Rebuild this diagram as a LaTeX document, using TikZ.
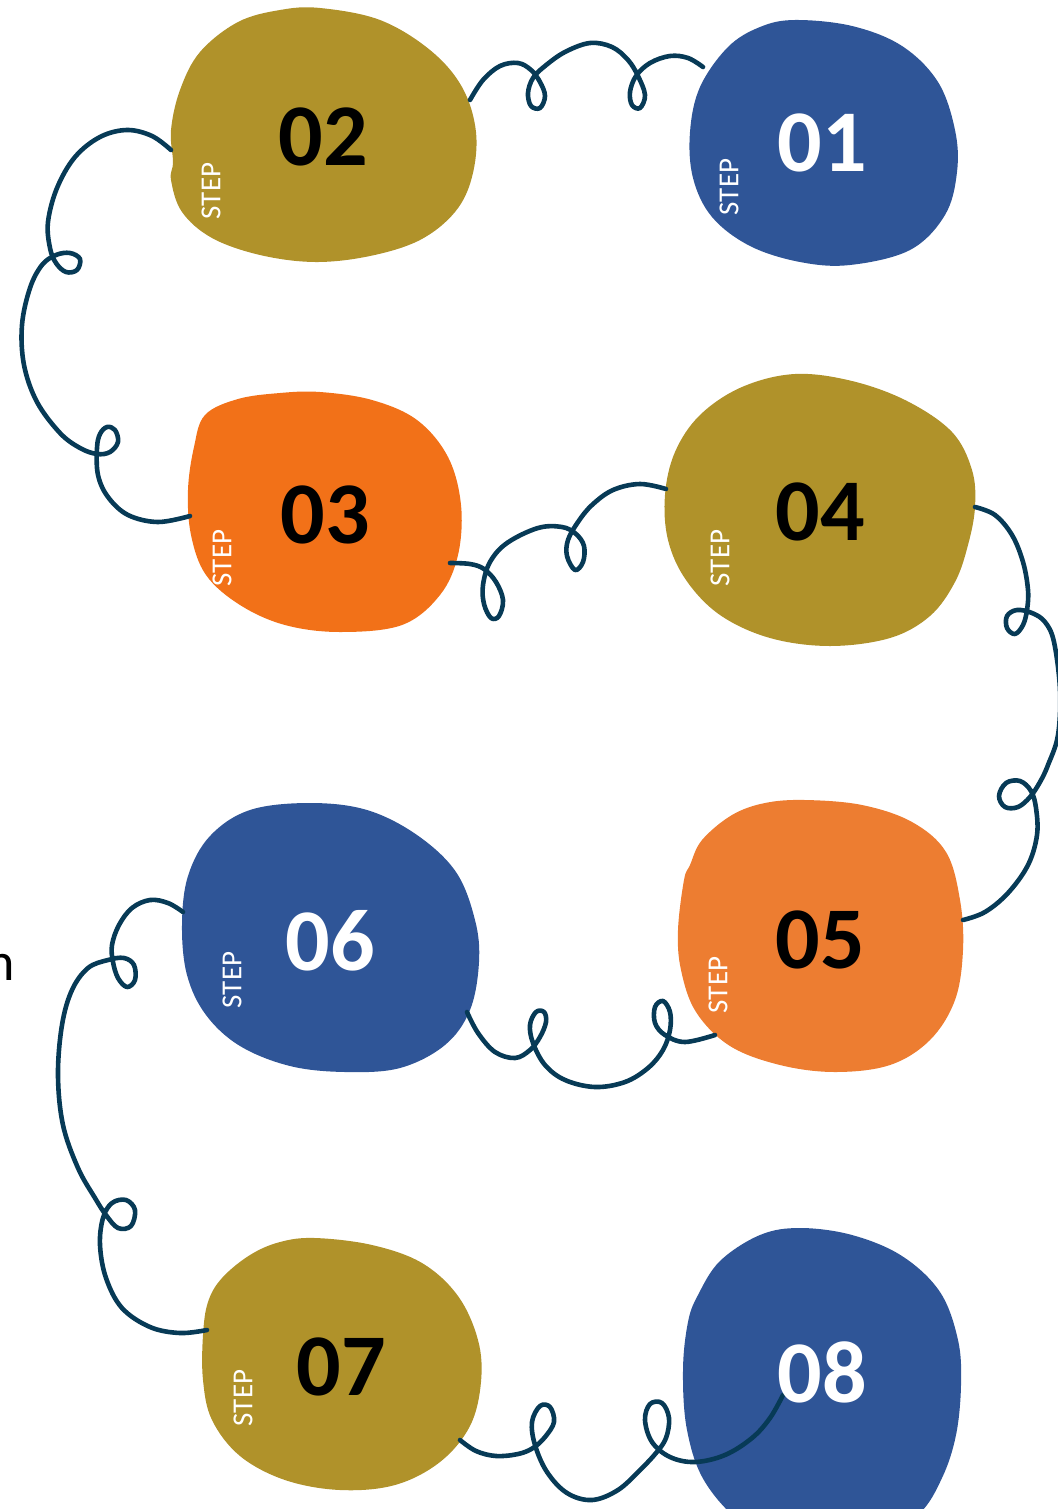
\documentclass[tikz,border=0pt]{standalone}
\usepackage{fontspec}
\setmainfont{Carlito}
\definecolor{olive}{HTML}{B0922A}
\definecolor{bblue}{HTML}{2F5597}
\definecolor{orgA}{HTML}{F27118}
\definecolor{orgB}{HTML}{ED7D31}
\definecolor{navy}{HTML}{073A56}
\begin{document}
\begin{tikzpicture}[x=0.5pt,y=-0.5pt,
  blob/.style={smooth cycle,tension=0.6},
  conn/.style={draw=navy,line width=2.3pt,line cap=round,line join=round},
  num/.style={inner sep=0pt,font=\fontsize{44}{44}\selectfont\bfseries},
  steplbl/.style={inner sep=0pt,rotate=90,text=white,font=\fontsize{14.5}{14.5}\selectfont}]
\useasboundingbox (0,0) rectangle (1057,1509);
% blobs
\fill[olive] plot[blob] coordinates {(320,8) (380,20) (430,50) (462,87) (476,132) (472,177) (455,212) (420,240) (370,256) (315,262) (260,255) (212,238) (182,212) (171,180) (173,162) (171,130) (180,90) (200,52) (238,22) (280,10)};
\fill[bblue] plot[blob] coordinates {(795,20) (852,26) (902,46) (938,82) (955,130) (957,172) (945,215) (910,250) (850,265) (800,262) (750,246) (712,217) (693,178) (690,132) (700,87) (728,47) (760,27)};
\fill[orgA] plot[blob] coordinates {(320,392) (372,400) (417,420) (448,457) (461,505) (458,555) (440,595) (402,625) (340,632) (285,625) (240,605) (206,575) (191,535) (188,490) (194,447) (205,415) (238,399) (280,393)};
\fill[olive] plot[blob] coordinates {(795,374) (852,381) (907,401) (952,432) (972,470) (975,507) (968,545) (955,582) (930,616) (890,638) (830,646) (770,638) (720,615) (686,580) (668,540) (665,495) (675,452) (700,415) (742,387)};
\fill[orgB] plot[blob] coordinates {(805,800) (862,805) (912,822) (946,852) (960,900) (963,950) (955,1000) (930,1040) (890,1065) (835,1072) (780,1065) (730,1046) (696,1012) (681,970) (678,930) (684,880) (690,865) (702,840) (732,815) (765,803)};
\fill[bblue] plot[blob] coordinates {(310,803) (367,810) (417,835) (456,872) (475,920) (479,962) (470,1010) (445,1045) (400,1068) (345,1072) (290,1066) (240,1046) (206,1015) (187,975) (182,925) (188,876) (210,836) (250,810)};
\fill[olive] plot[blob] coordinates {(315,1238) (372,1245) (422,1263) (458,1296) (478,1340) (481,1382) (470,1426) (440,1462) (395,1485) (340,1490) (285,1480) (240,1456) (212,1420) (203,1380) (203,1335) (208,1302) (222,1278) (250,1255) (280,1242)};
\fill[bblue] plot[blob] coordinates {(800,1228) (852,1235) (902,1256) (940,1292) (958,1340) (961,1385) (956,1435) (942,1478) (918,1515) (870,1545) (800,1548) (745,1525) (705,1482) (687,1430) (683,1370) (688,1322) (698,1295) (720,1261) (760,1235)};
% connector end points
\coordinate (e02r) at (470,100);  \coordinate (e01l) at (703,67);
\coordinate (e02l) at (171,150);  \coordinate (e03l) at (190,516);
\coordinate (e03r) at (450,563);  \coordinate (e04l) at (666,489);
\coordinate (e04r) at (975,507);  \coordinate (e05r) at (963,920);
\coordinate (e06r) at (467,1012); \coordinate (e05l) at (715,1035);
\coordinate (e06l) at (183,912);  \coordinate (e07l) at (207,1330);
\coordinate (e07r) at (460,1440); \coordinate (e08i) at (783,1395);
% connectors
\draw[conn] plot[smooth,tension=0.6] coordinates {(e02r) (483,80) (500,66) (518,63) (531,70) (540,82) (545,96) (540,108) (531,106) (528,93) (533,78) (545,66) (565,52) (590,43) (612,47) (628,60) (638,76) (645,95) (640,108) (632,105) (630,92) (636,76) (650,63) (670,56) (688,58) (e01l)};
\draw[conn] plot[smooth,tension=0.6] coordinates {(e02l) (152,136) (127,130) (100,137) (75,157) (57,188) (48,222) (50,248) (56,263) (66,272) (77,270) (80,259) (70,253) (56,255) (42,265) (30,288) (22,325) (24,365) (37,402) (60,433) (80,448) (97,454) (110,452) (118,442) (115,430) (107,427) (100,434) (97,448) (98,475) (108,497) (128,515) (158,522) (e03l)};
\draw[conn] plot[smooth,tension=0.6] coordinates {(e03r) (470,564) (484,569) (496,582) (503,600) (499,616) (491,618) (484,604) (483,585) (490,562) (507,543) (538,528) (562,527) (576,534) (584,546) (583,562) (575,570) (567,556) (568,540) (578,522) (592,505) (613,490) (640,484) (e04l)};
\draw[conn] plot[smooth,tension=0.6] coordinates {(e04r) (995,515) (1012,535) (1023,562) (1028,590) (1027,610) (1023,625) (1015,634) (1007,628) (1007,616) (1017,610) (1032,613) (1045,622) (1054,642) (1060,690) (1058,735) (1048,765) (1040,782) (1030,797) (1018,807) (1005,807) (999,796) (1006,783) (1020,781) (1031,791) (1036,808) (1037,835) (1028,865) (1008,893) (985,912) (e05r)};
\draw[conn] plot[smooth,tension=0.6] coordinates {(e06r) (478,1033) (495,1052) (515,1058) (530,1050) (540,1037) (546,1022) (544,1012) (536,1012) (530,1025) (533,1043) (545,1065) (565,1080) (595,1087) (625,1082) (648,1068) (663,1050) (670,1030) (670,1012) (663,1001) (655,1007) (655,1023) (665,1035) (685,1042) (e05l)};
\draw[conn] plot[smooth,tension=0.6] coordinates {(e06l) (168,903) (150,900) (132,908) (119,925) (112,945) (113,962) (118,978) (127,987) (135,980) (134,965) (124,958) (108,960) (88,968) (72,990) (62,1025) (58,1075) (63,1125) (78,1168) (95,1198) (106,1215) (118,1228) (131,1226) (135,1210) (126,1200) (112,1203) (103,1218) (100,1245) (106,1278) (122,1308) (150,1327) (180,1333) (e07l)};
\draw[conn] plot[smooth,tension=0.6] coordinates {(e07r) (476,1451) (496,1456) (518,1454) (533,1448) (545,1437) (554,1422) (550,1407) (540,1406) (532,1422) (535,1445) (547,1472) (567,1493) (592,1500) (618,1490) (640,1470) (656,1453) (666,1438) (669,1418) (662,1403) (650,1404) (645,1420) (652,1442) (670,1457) (695,1462) (725,1455) (752,1438) (770,1418) (e08i)};
% numbers
\node[num] (n02) at (323,137) {02};
\node[num,text=white] (n01) at (822,143) {01};
\node[num] (n03) at (325,515) {03};
\node[num] (n04) at (820,512) {04};
\node[num] (n05) at (820,940) {05};
\node[num,text=white] (n06) at (330,941) {06};
\node[num] (n07) at (341,1367) {07};
\node[num,text=white] (n08) at (822,1372) {08};
% step labels
\node[steplbl] (s02) at (211,191) {STEP};
\node[steplbl] (s01) at (729,187) {STEP};
\node[steplbl] (s03) at (222,558) {STEP};
\node[steplbl] (s04) at (720,558) {STEP};
\node[steplbl] (s05) at (718,985) {STEP};
\node[steplbl] (s06) at (232,980) {STEP};
\node[steplbl] (s07) at (243,1398) {STEP};
% stray letter (cut off at the left edge, as in the reference)
\node[inner sep=0pt,anchor=base,font=\fontsize{27}{27}\selectfont] (stray) at (0.5,980) {n};
\end{tikzpicture}
\end{document}
